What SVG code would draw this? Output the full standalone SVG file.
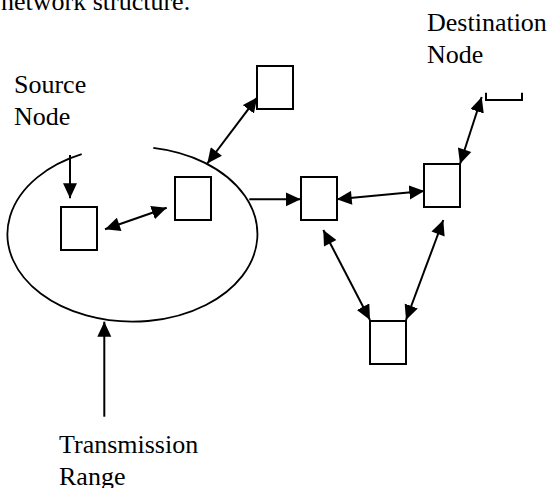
<svg xmlns="http://www.w3.org/2000/svg" width="551" height="488" viewBox="0 0 551 488">
  <style>
    .lbl { font-family: "Liberation Serif", "Times New Roman", serif; font-size: 26px; fill: #000; }
    .node { fill: #fff; stroke: #000; stroke-width: 2; }
    .conn { stroke: #000; stroke-width: 2; fill: none; }
  </style>
  <defs>
    <marker id="arrE" markerUnits="userSpaceOnUse" markerWidth="16" markerHeight="15" refX="15" refY="7" orient="auto">
      <path d="M0,0 L15,7 L0,14 z" fill="#000"/>
    </marker>
    <marker id="arrS" markerUnits="userSpaceOnUse" markerWidth="16" markerHeight="15" refX="0" refY="7" orient="auto">
      <path d="M15,0 L0,7 L15,14 z" fill="#000"/>
    </marker>
  </defs>
  <rect width="551" height="488" fill="#fff"/>

  <text class="lbl" x="1" y="10">network structure.</text>

  <g id="range">
    <path d="M153.3,147.9 A125,87.5 0 1 1 81.7,154.2" fill="none" stroke="#000" stroke-width="1.8"/>
  </g>

  <g id="label-source"><text class="lbl" x="14" y="93">Source</text><text class="lbl" x="14" y="125">Node</text></g>
  <g id="label-destination"><text class="lbl" x="427" y="31">Destination</text><text class="lbl" x="427" y="63">Node</text></g>
  <g id="label-range"><text class="lbl" x="59" y="453">Transmission</text><text class="lbl" x="59" y="485">Range</text></g>

  <g id="node-a"><rect class="node" x="61" y="207" width="36" height="43"/></g>
  <g id="node-b"><rect class="node" x="175" y="177" width="36" height="43"/></g>
  <g id="node-c"><rect class="node" x="257" y="66" width="36" height="43"/></g>
  <g id="node-d"><rect class="node" x="301" y="177" width="36" height="43"/></g>
  <g id="node-e"><rect class="node" x="424" y="164" width="36" height="43"/></g>
  <g id="node-f"><rect class="node" x="370" y="321" width="36" height="43"/></g>
  <g id="node-destination"><path class="conn" d="M486,92.7 V100 H522 V92.7"/></g>

  <g id="connectors">
    <line class="conn" x1="70" y1="155" x2="70" y2="198.3" marker-end="url(#arrE)"/>
    <line class="conn" x1="105" y1="229.3" x2="166.7" y2="207.7" marker-start="url(#arrS)" marker-end="url(#arrE)"/>
    <line class="conn" x1="207.3" y1="163.5" x2="257.3" y2="97.3" marker-start="url(#arrS)" marker-end="url(#arrE)"/>
    <line class="conn" x1="249.3" y1="199.3" x2="300.7" y2="199.3" marker-end="url(#arrE)"/>
    <line class="conn" x1="336.7" y1="199.3" x2="424.3" y2="191" marker-start="url(#arrS)" marker-end="url(#arrE)"/>
    <line class="conn" x1="460" y1="164" x2="481.7" y2="97" marker-start="url(#arrS)" marker-end="url(#arrE)"/>
    <line class="conn" x1="323.3" y1="230" x2="370" y2="320" marker-start="url(#arrS)" marker-end="url(#arrE)"/>
    <line class="conn" x1="443.3" y1="220" x2="406" y2="320" marker-start="url(#arrS)" marker-end="url(#arrE)"/>
    <line class="conn" x1="104.3" y1="416.7" x2="104.3" y2="321.7" marker-end="url(#arrE)"/>
  </g>
</svg>
